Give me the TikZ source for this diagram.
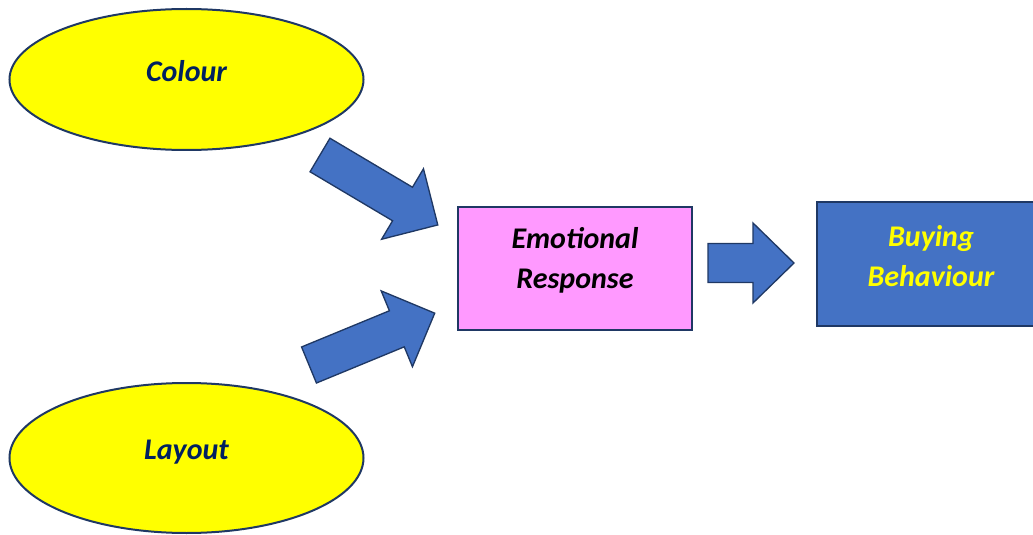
\documentclass[tikz,border=0pt]{standalone}
\usepackage{fontspec}
\setmainfont{Carlito}
\usepackage{tikz}
\usetikzlibrary{shapes.geometric}

\definecolor{ovalyellow}{HTML}{FFFF00}
\definecolor{emopink}{HTML}{FF99FF}
\definecolor{buyblue}{HTML}{4472C4}
\definecolor{edgenavy}{HTML}{1F3864}
\definecolor{textnavy}{HTML}{002060}

\tikzset{
  oval/.style={ellipse, draw=edgenavy, line width=1.5pt, fill=ovalyellow,
    minimum width=265.5pt, inner sep=0pt},
  ovaltext/.style={font=\fontsize{22.5}{30}\selectfont\bfseries\itshape, text=textnavy},
  boxtext/.style={font=\fontsize{22.5}{30}\selectfont\bfseries\itshape, align=center},
  factorbox/.style={rectangle, draw=edgenavy, line width=1.5pt, inner sep=0pt},
  blockarrow/.style={fill=buyblue, draw=edgenavy, line width=1pt, line join=miter}
}

\begin{document}
\begin{tikzpicture}[x=0.75pt, y=-0.75pt]
                \clip (0,0) rectangle (1033,535);
                 % the two factors
                 \node[oval, minimum height=105.75pt] (colour) at (186.5,79.5) {};
                 \node[oval, minimum height=112.5pt] (layout) at (186.5,458) {};
                 \node[ovaltext] (colourtxt) at ([yshift=6pt]colour.center) {Colour};
                 \node[ovaltext] (layouttxt) at ([yshift=4.5pt]layout.center) {Layout};
                 % response and behaviour boxes
                 \node[factorbox, fill=emopink, minimum width=175.5pt, minimum height=92.25pt] (emotion) at (575,268.5) {};
                 \node[factorbox, fill=buyblue, minimum width=171pt, minimum height=93pt] (buying) at (931,264) {};
                 \node[boxtext, text=black] (emotiontxt) at ([yshift=6pt]emotion.center) {Emotional\\Response};
                 \node[boxtext, text=ovalyellow] (buyingtxt) at ([yshift=6pt]buying.center) {Buying\\Behaviour};
                 % block arrows
                 \begin{scope}[shift={(320,155)}, rotate=-30.7]
                   \draw[blockarrow] (0,-19.5) -- (96,-19.5) -- (96,-41) -- (137,0) -- (96,41) -- (96,19.5) -- (0,19.5) -- cycle;
                 \end{scope}
                 \begin{scope}[shift={(309,365)}, rotate=22.4]
                   \draw[blockarrow] (0,-19.5) -- (95,-19.5) -- (95,-41) -- (136,0) -- (95,41) -- (95,19.5) -- (0,19.5) -- cycle;
                 \end{scope}
                 \begin{scope}[shift={(708,263)}]
                   \draw[blockarrow] (0,-19.5) -- (45,-19.5) -- (45,-40) -- (86,0) -- (45,40) -- (45,19.5) -- (0,19.5) -- cycle;
                 \end{scope}
            \end{tikzpicture}
\end{document}
